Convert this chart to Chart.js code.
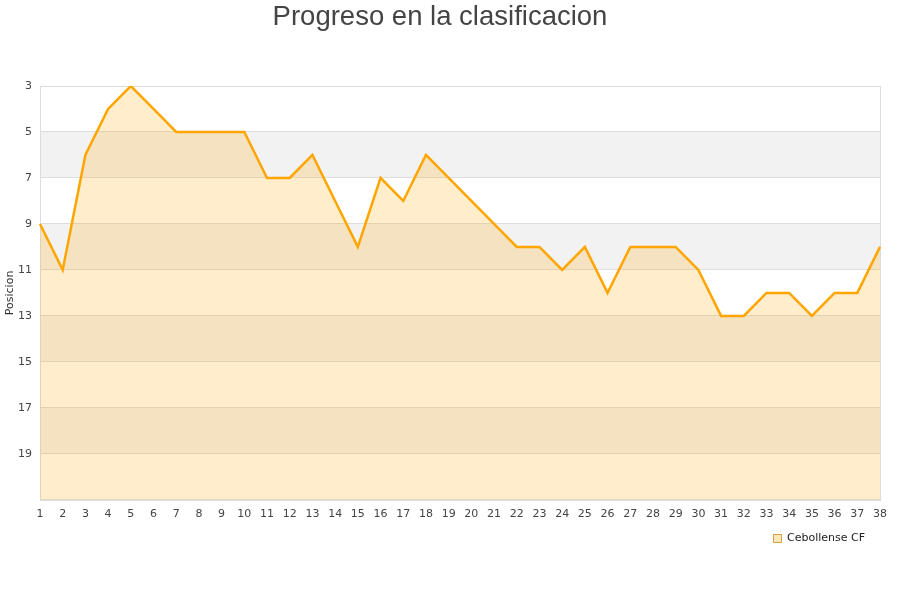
<!DOCTYPE html>
<html>
<head>
<meta charset="utf-8">
<script src="https://cdn.jsdelivr.net/npm/chart.js@4"></script>
<style>
html,body{margin:0;padding:0;background:#fff;}
#wrap{width:900px;height:600px;}
</style>
</head>
<body>
<div id="wrap"><canvas id="c" width="900" height="600"></canvas></div>
<script>
const rounds = ["1","2","3","4","5","6","7","8","9","10","11","12","13","14","15","16","17","18","19","20","21","22","23","24","25","26","27","28","29","30","31","32","33","34","35","36","37","38"];
const positions = [9,11,6,4,3,4,5,5,5,5,7,7,6,8,10,7,8,6,7,8,9,10,10,11,10,12,10,10,10,11,13,13,12,12,13,12,12,10];
const teamName = "Cebollense CF";
const chartTitle = "Progreso en la clasificacion";
const yTitle = "Posicion";
const yMin = 3, yMax = 21, yStep = 2;

const bandsPlugin = {
  id: 'bands',
  beforeDraw(chart) {
    const {ctx, chartArea: a, scales: {y}} = chart;
    ctx.save();
    ctx.fillStyle = '#f2f2f2';
    for (let v = yMin + 2; v < yMax; v += 4) {
      const p1 = y.getPixelForValue(v), p2 = y.getPixelForValue(Math.min(v + 2, yMax));
      ctx.fillRect(a.left, p1, a.right - a.left, p2 - p1);
    }
    ctx.strokeStyle = '#dddddd';
    ctx.lineWidth = 1;
    ctx.strokeRect(Math.round(a.left) + 0.5, Math.round(a.top) + 0.5, Math.round(a.right - a.left), Math.round(a.bottom - a.top));
    ctx.restore();
  }
};

new Chart(document.getElementById('c'), {
  type: 'line',
  data: {
    labels: rounds,
    datasets: [{
      label: teamName,
      data: positions,
      borderColor: '#ffa500',
      backgroundColor: 'rgba(255,165,0,0.2)',
      borderWidth: 2.5,
      fill: {value: yMax},
      tension: 0,
      pointRadius: 0,
      pointHoverRadius: 0
    }]
  },
  options: {
    responsive: false,
    animation: false,
    devicePixelRatio: 1,
    layout: {padding: {top: 0, right: 20, bottom: 46, left: 0}},
    plugins: {
      title: {
        display: true,
        text: chartTitle,
        color: '#444444',
        font: {family: 'Liberation Sans', size: 27.5, weight: 'normal'},
        padding: {top: 1, bottom: 52}
      },
      legend: {
        display: true,
        position: 'bottom',
        align: 'end',
        labels: {
          color: '#222222',
          font: {family: 'DejaVu Sans', size: 11},
          boxWidth: 8,
          boxHeight: 8,
          padding: 15,
          generateLabels(chart) {
            const items = Chart.defaults.plugins.legend.labels.generateLabels(chart);
            items.forEach(it => { it.lineWidth = 1; it.fillStyle = '#fde7bd'; it.strokeStyle = '#d9a040'; });
            return items;
          }
        }
      },
      tooltip: {enabled: false}
    },
    scales: {
      x: {
        offset: false,
        afterFit(s) { s.height -= 11; },
        grid: {display: false, drawTicks: false},
        border: {display: false},
        ticks: {color: '#444444', font: {family: 'DejaVu Sans', size: 11}, maxRotation: 0, autoSkip: false, padding: 8}
      },
      y: {
        reverse: true,
        min: yMin,
        max: yMax,
        afterFit(s) { s.width = 40; },
        afterBuildTicks(s) {
          const t = [];
          for (let v = yMin; v <= yMax; v += yStep) t.push({value: v});
          s.ticks = t;
        },
        grid: {color: '#dddddd', drawTicks: false},
        border: {display: false},
        title: {display: true, text: yTitle, color: '#333333', font: {family: 'DejaVu Sans', size: 11}, padding: {top: 4, bottom: 0}},
        ticks: {
          color: '#444444',
          font: {family: 'DejaVu Sans', size: 11},
          padding: 8,
          callback: (v) => v === yMax ? '' : v
        }
      }
    }
  },
  plugins: [bandsPlugin]
});
</script>
</body>
</html>
